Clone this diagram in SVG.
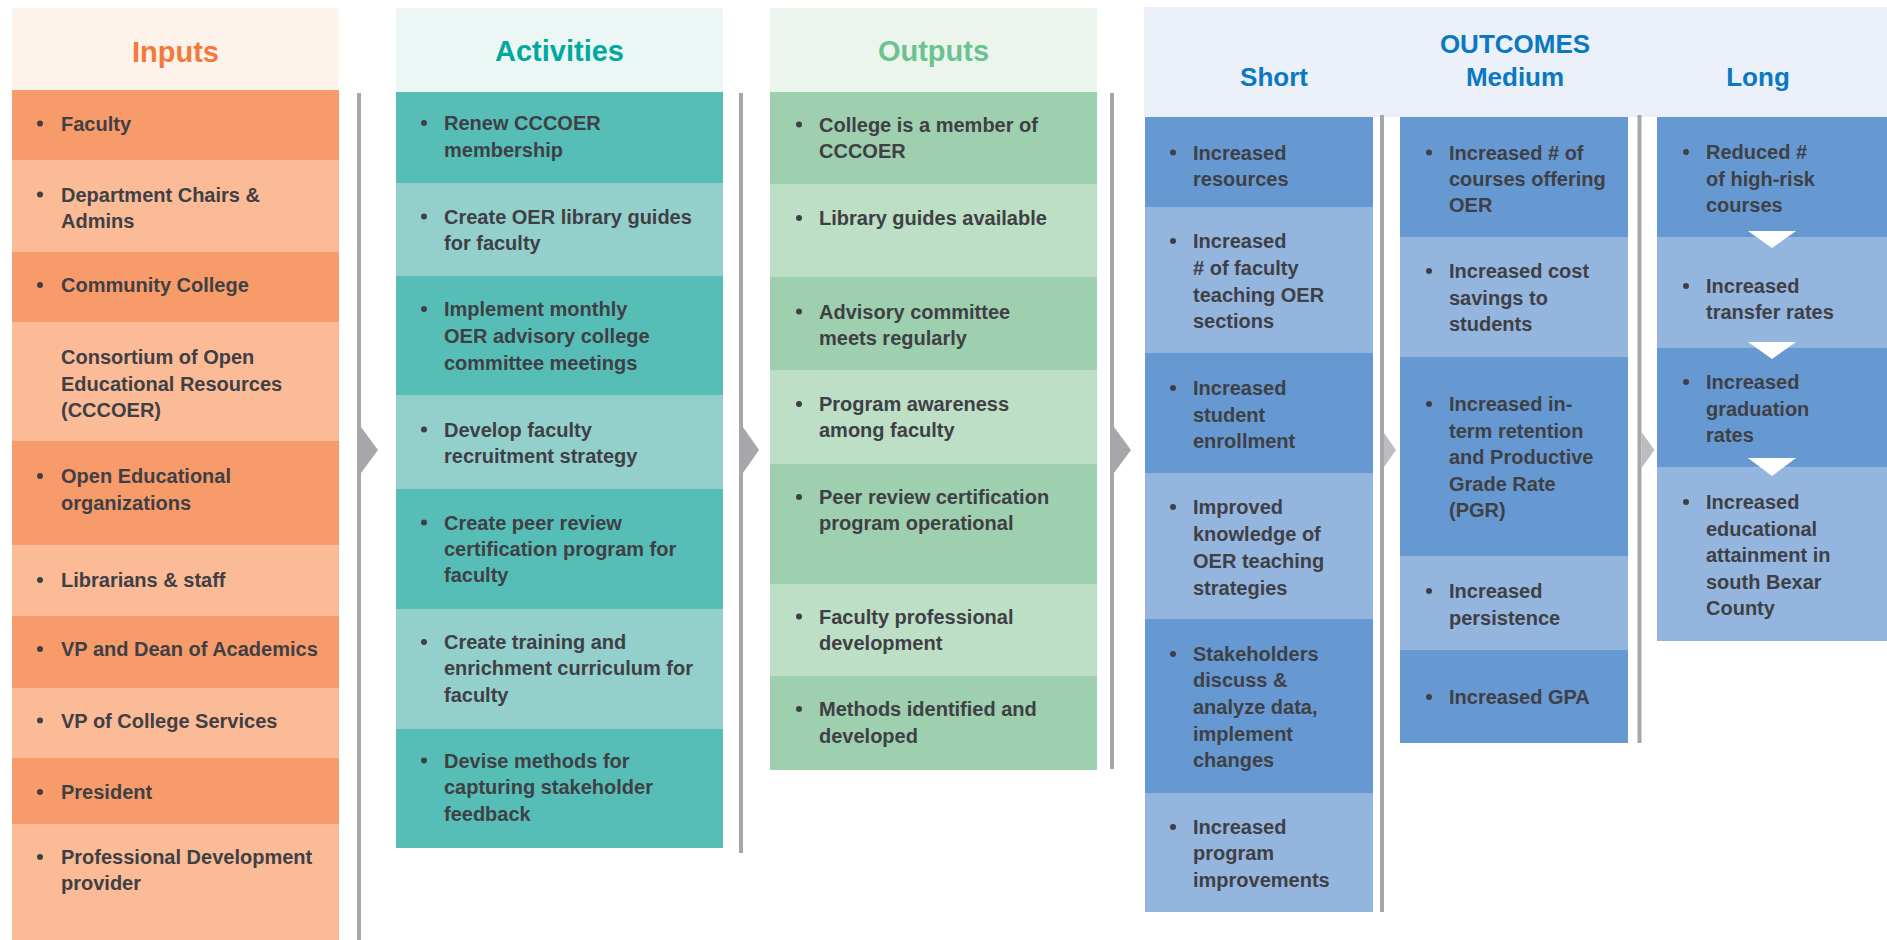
<svg xmlns="http://www.w3.org/2000/svg" width="1887" height="940" viewBox="0 0 1887 940">
<style>
.t{font-family:"Liberation Sans",Arial,sans-serif;font-weight:bold;font-size:20px;fill:#3f4045}
.h{font-family:"Liberation Sans",Arial,sans-serif;font-weight:bold;font-size:29px;text-anchor:middle}
.ho{font-family:"Liberation Sans",Arial,sans-serif;font-weight:bold;font-size:26px;text-anchor:middle;fill:#0a78c2}
.b{fill:#3f4045}
.in1{fill:#f89b6a}.in2{fill:#fbbb96}
.ac1{fill:#57beb7}.ac2{fill:#93d0cc}
.ou1{fill:#9ecfae}.ou2{fill:#bcdfc6}
.oc1{fill:#6699d2}.oc2{fill:#94b5de}
.sep{fill:#a6a7ab}
.chev{fill:#a6a7ab}
.chev2{fill:#bcbdc0}
</style>
<rect width="1887" height="940" fill="#ffffff"/>

<!-- Headers -->
<g id="header-inputs">
<rect x="12" y="8" width="327" height="82" fill="#fef3ea"/>
<text class="h" x="175.5" y="61.5" fill="#f37a3a">Inputs</text>
</g>
<g id="header-activities">
<rect x="396" y="8" width="327" height="84" fill="#ecf6f4"/>
<text class="h" x="559.5" y="61" fill="#00a99d">Activities</text>
</g>
<g id="header-outputs">
<rect x="770" y="8" width="327" height="84" fill="#ebf5ee"/>
<text class="h" x="933.5" y="61" fill="#6cc28e">Outputs</text>
</g>
<g id="header-outcomes">
<rect x="1144" y="7" width="743" height="110" fill="#ecf0f9"/>
<text class="ho" x="1515" y="53">OUTCOMES</text>
<text class="ho" x="1274" y="86">Short</text>
<text class="ho" x="1515" y="86">Medium</text>
<text class="ho" x="1758" y="86">Long</text>
</g>

<!-- Connectors -->
<g id="connectors">
<rect class="sep" x="357" y="93" width="4" height="847"/>
<polygon class="chev" points="361,427 378,450 361,473"/>
<rect class="sep" x="739" y="93" width="4" height="760"/>
<polygon class="chev" points="743,427 759,450 743,473"/>
<rect class="sep" x="1110" y="93" width="4" height="676"/>
<polygon class="chev" points="1114,427 1131,450 1114,473"/>
<rect class="sep" x="1380" y="115" width="4" height="797"/>
<polygon class="chev2" points="1384,433 1396,450 1384,467"/>
<rect class="sep" x="1637.5" y="115" width="4" height="628"/>
<polygon class="chev2" points="1641.5,432 1654.5,450 1641.5,468"/>
</g>

<!-- Inputs -->
<g id="in-faculty"><rect class="in1" x="12" y="90" width="327" height="70"/><circle class="b" cx="40" cy="123.5" r="3"/><text class="t" x="61" y="130.5">Faculty</text></g>
<g id="in-chairs"><rect class="in2" x="12" y="160" width="327" height="92"/><circle class="b" cx="40" cy="194.5" r="3"/><text class="t" x="61" y="201.5">Department Chairs &amp;<tspan x="61" y="227.5">Admins</tspan></text></g>
<g id="in-community"><rect class="in1" x="12" y="252" width="327" height="70"/><circle class="b" cx="40" cy="285" r="3"/><text class="t" x="61" y="292">Community College</text></g>
<g id="in-consortium"><rect class="in2" x="12" y="322" width="327" height="119"/><text class="t" x="61" y="364">Consortium of Open<tspan x="61" y="390.5">Educational Resources</tspan><tspan x="61" y="417">(CCCOER)</tspan></text></g>
<g id="in-oer-orgs"><rect class="in1" x="12" y="441" width="327" height="104"/><circle class="b" cx="40" cy="476" r="3"/><text class="t" x="61" y="483">Open Educational<tspan x="61" y="509.5">organizations</tspan></text></g>
<g id="in-librarians"><rect class="in2" x="12" y="545" width="327" height="71"/><circle class="b" cx="40" cy="580" r="3"/><text class="t" x="61" y="587">Librarians &amp; staff</text></g>
<g id="in-vp-dean"><rect class="in1" x="12" y="616" width="327" height="72"/><circle class="b" cx="40" cy="649" r="3"/><text class="t" x="61" y="656">VP and Dean of Academics</text></g>
<g id="in-vp-services"><rect class="in2" x="12" y="688" width="327" height="70"/><circle class="b" cx="40" cy="720.5" r="3"/><text class="t" x="61" y="727.5">VP of College Services</text></g>
<g id="in-president"><rect class="in1" x="12" y="758" width="327" height="66"/><circle class="b" cx="40" cy="792" r="3"/><text class="t" x="61" y="799">President</text></g>
<g id="in-profdev"><rect class="in2" x="12" y="824" width="327" height="116"/><circle class="b" cx="40" cy="857" r="3"/><text class="t" x="61" y="864">Professional Development<tspan x="61" y="890">provider</tspan></text></g>

<!-- Activities -->
<g id="ac-renew"><rect class="ac1" x="396" y="92" width="327" height="91"/><circle class="b" cx="424" cy="123" r="3"/><text class="t" x="444" y="130">Renew CCCOER<tspan x="444" y="156.5">membership</tspan></text></g>
<g id="ac-guides"><rect class="ac2" x="396" y="183" width="327" height="93"/><circle class="b" cx="424" cy="216.5" r="3"/><text class="t" x="444" y="223.5">Create OER library guides<tspan x="444" y="250">for faculty</tspan></text></g>
<g id="ac-monthly"><rect class="ac1" x="396" y="276" width="327" height="119"/><circle class="b" cx="424" cy="309" r="3"/><text class="t" x="444" y="316">Implement monthly<tspan x="444" y="342.5">OER advisory college</tspan><tspan x="444" y="369.5">committee meetings</tspan></text></g>
<g id="ac-recruit"><rect class="ac2" x="396" y="395" width="327" height="94"/><circle class="b" cx="424" cy="429.5" r="3"/><text class="t" x="444" y="436.5">Develop faculty<tspan x="444" y="463">recruitment strategy</tspan></text></g>
<g id="ac-peer"><rect class="ac1" x="396" y="489" width="327" height="120"/><circle class="b" cx="424" cy="522.5" r="3"/><text class="t" x="444" y="529.5">Create peer review<tspan x="444" y="556">certification program for</tspan><tspan x="444" y="582">faculty</tspan></text></g>
<g id="ac-training"><rect class="ac2" x="396" y="609" width="327" height="120"/><circle class="b" cx="424" cy="642" r="3"/><text class="t" x="444" y="649">Create training and<tspan x="444" y="675">enrichment curriculum for</tspan><tspan x="444" y="701.5">faculty</tspan></text></g>
<g id="ac-devise"><rect class="ac1" x="396" y="729" width="327" height="119"/><circle class="b" cx="424" cy="760.5" r="3"/><text class="t" x="444" y="767.5">Devise methods for<tspan x="444" y="794">capturing stakeholder</tspan><tspan x="444" y="821">feedback</tspan></text></g>

<!-- Outputs -->
<g id="ou-member"><rect class="ou1" x="770" y="92" width="327" height="92"/><circle class="b" cx="799" cy="124.5" r="3"/><text class="t" x="819" y="131.5">College is a member of<tspan x="819" y="158">CCCOER</tspan></text></g>
<g id="ou-guides"><rect class="ou2" x="770" y="184" width="327" height="93"/><circle class="b" cx="799" cy="218" r="3"/><text class="t" x="819" y="225">Library guides available</text></g>
<g id="ou-advisory"><rect class="ou1" x="770" y="277" width="327" height="93"/><circle class="b" cx="799" cy="311.5" r="3"/><text class="t" x="819" y="318.5">Advisory committee<tspan x="819" y="344.5">meets regularly</tspan></text></g>
<g id="ou-awareness"><rect class="ou2" x="770" y="370" width="327" height="94"/><circle class="b" cx="799" cy="404" r="3"/><text class="t" x="819" y="411">Program awareness<tspan x="819" y="437">among faculty</tspan></text></g>
<g id="ou-peer"><rect class="ou1" x="770" y="464" width="327" height="120"/><circle class="b" cx="799" cy="497" r="3"/><text class="t" x="819" y="504">Peer review certification<tspan x="819" y="530">program operational</tspan></text></g>
<g id="ou-profdev"><rect class="ou2" x="770" y="584" width="327" height="92"/><circle class="b" cx="799" cy="616.5" r="3"/><text class="t" x="819" y="623.5">Faculty professional<tspan x="819" y="650">development</tspan></text></g>
<g id="ou-methods"><rect class="ou1" x="770" y="676" width="327" height="94"/><circle class="b" cx="799" cy="709" r="3"/><text class="t" x="819" y="716">Methods identified and<tspan x="819" y="742.5">developed</tspan></text></g>

<!-- Short -->
<g id="sh-resources"><rect class="oc1" x="1145" y="117" width="228" height="90"/><circle class="b" cx="1173" cy="152.5" r="3"/><text class="t" x="1193" y="159.5">Increased<tspan x="1193" y="185.5">resources</tspan></text></g>
<g id="sh-faculty"><rect class="oc2" x="1145" y="207" width="228" height="146"/><circle class="b" cx="1173" cy="241" r="3"/><text class="t" x="1193" y="248">Increased<tspan x="1193" y="274.5"># of faculty</tspan><tspan x="1193" y="301.5">teaching OER</tspan><tspan x="1193" y="328">sections</tspan></text></g>
<g id="sh-enrollment"><rect class="oc1" x="1145" y="353" width="228" height="120"/><circle class="b" cx="1173" cy="388" r="3"/><text class="t" x="1193" y="395">Increased<tspan x="1193" y="421.5">student</tspan><tspan x="1193" y="447.5">enrollment</tspan></text></g>
<g id="sh-knowledge"><rect class="oc2" x="1145" y="473" width="228" height="146"/><circle class="b" cx="1173" cy="507" r="3"/><text class="t" x="1193" y="514">Improved<tspan x="1193" y="541">knowledge of</tspan><tspan x="1193" y="568">OER teaching</tspan><tspan x="1193" y="594.5">strategies</tspan></text></g>
<g id="sh-stakeholders"><rect class="oc1" x="1145" y="619" width="228" height="174"/><circle class="b" cx="1173" cy="654" r="3"/><text class="t" x="1193" y="661">Stakeholders<tspan x="1193" y="687">discuss &amp;</tspan><tspan x="1193" y="714">analyze data,</tspan><tspan x="1193" y="740.5">implement</tspan><tspan x="1193" y="767">changes</tspan></text></g>
<g id="sh-program"><rect class="oc2" x="1145" y="793" width="228" height="119"/><circle class="b" cx="1173" cy="827" r="3"/><text class="t" x="1193" y="834">Increased<tspan x="1193" y="860">program</tspan><tspan x="1193" y="886.5">improvements</tspan></text></g>

<!-- Medium -->
<g id="me-courses"><rect class="oc1" x="1400" y="117" width="228" height="120"/><circle class="b" cx="1429" cy="152.5" r="3"/><text class="t" x="1449" y="159.5">Increased # of<tspan x="1449" y="185.5">courses offering</tspan><tspan x="1449" y="211.5">OER</tspan></text></g>
<g id="me-savings"><rect class="oc2" x="1400" y="237" width="228" height="120"/><circle class="b" cx="1429" cy="271" r="3"/><text class="t" x="1449" y="278">Increased cost<tspan x="1449" y="304.5">savings to</tspan><tspan x="1449" y="331">students</tspan></text></g>
<g id="me-retention"><rect class="oc1" x="1400" y="357" width="228" height="199"/><circle class="b" cx="1429" cy="404" r="3"/><text class="t" x="1449" y="411">Increased in-<tspan x="1449" y="437.5">term retention</tspan><tspan x="1449" y="464">and Productive</tspan><tspan x="1449" y="491">Grade Rate</tspan><tspan x="1449" y="517">(PGR)</tspan></text></g>
<g id="me-persistence"><rect class="oc2" x="1400" y="556" width="228" height="94"/><circle class="b" cx="1429" cy="591" r="3"/><text class="t" x="1449" y="598">Increased<tspan x="1449" y="624.5">persistence</tspan></text></g>
<g id="me-gpa"><rect class="oc1" x="1400" y="650" width="228" height="93"/><circle class="b" cx="1429" cy="697" r="3"/><text class="t" x="1449" y="704">Increased GPA</text></g>

<!-- Long -->
<g id="lo-highrisk"><rect class="oc1" x="1657" y="117" width="230" height="120"/><circle class="b" cx="1686" cy="152" r="3"/><text class="t" x="1706" y="159">Reduced #<tspan x="1706" y="185.5">of high-risk</tspan><tspan x="1706" y="212">courses</tspan></text></g>
<g id="lo-transfer"><rect class="oc2" x="1657" y="237" width="230" height="111"/><circle class="b" cx="1686" cy="286" r="3"/><text class="t" x="1706" y="293">Increased<tspan x="1706" y="318.5">transfer rates</tspan></text></g>
<g id="lo-graduation"><rect class="oc1" x="1657" y="348" width="230" height="119"/><circle class="b" cx="1686" cy="382" r="3"/><text class="t" x="1706" y="389">Increased<tspan x="1706" y="416">graduation</tspan><tspan x="1706" y="442">rates</tspan></text></g>
<g id="lo-attainment"><rect class="oc2" x="1657" y="467" width="230" height="174"/><circle class="b" cx="1686" cy="502" r="3"/><text class="t" x="1706" y="509">Increased<tspan x="1706" y="535.5">educational</tspan><tspan x="1706" y="562">attainment in</tspan><tspan x="1706" y="588.5">south Bexar</tspan><tspan x="1706" y="614.5">County</tspan></text></g>
<g id="lo-arrows">
<polygon fill="#ffffff" points="1748,231 1796,231 1772,248"/>
<polygon fill="#ffffff" points="1748,342 1796,342 1772,359"/>
<polygon fill="#ffffff" points="1748,458 1796,458 1772,476"/>
</g>
</svg>
